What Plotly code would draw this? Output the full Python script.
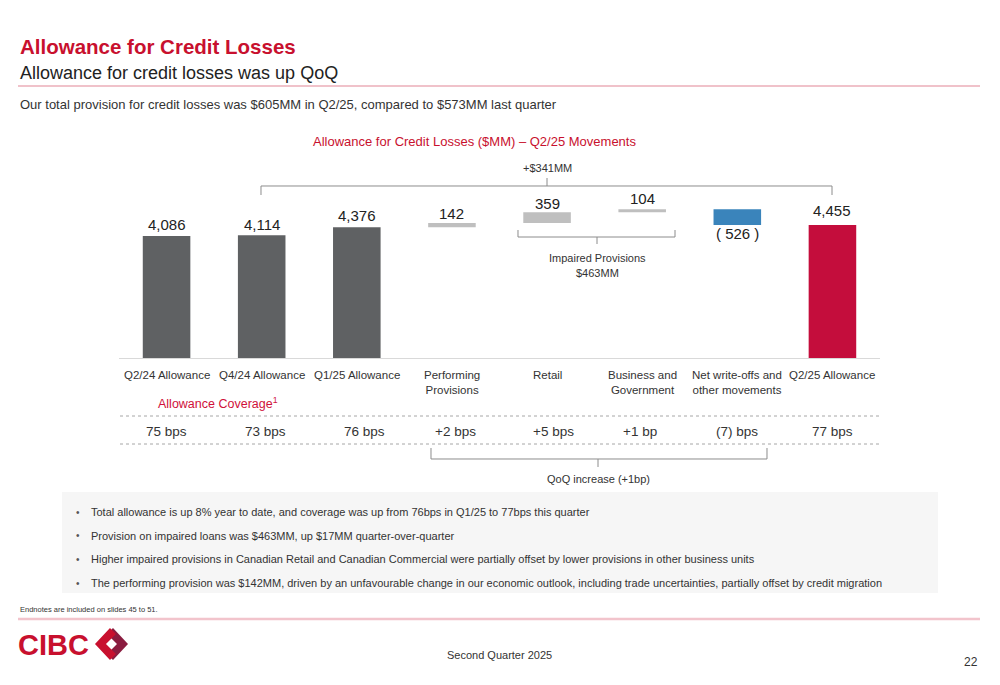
import plotly.graph_objects as go

# ---------------- data ----------------
categories = ["Q2/24 Allowance", "Q4/24 Allowance", "Q1/25 Allowance", "Performing Provisions",
              "Retail", "Business and Government", "Net write-offs and other movements", "Q2/25 Allowance"]
category_labels = ["Q2/24 Allowance", "Q4/24 Allowance", "Q1/25 Allowance", "Performing<br>Provisions",
                   "Retail", "Business and<br>Government", "Net write-offs and<br>other movements", "Q2/25 Allowance"]
values = [4086, 4114, 4376, 142, 359, 104, -526, 4455]
measures = ["total", "total", "total", "delta", "delta", "delta", "delta", "total"]
coverage = ["75 bps", "73 bps", "76 bps", "+2 bps", "+5 bps", "+1 bp", "(7) bps", "77 bps"]
bullets = [
    "Total allowance is up 8% year to date, and coverage was up from 76bps in Q1/25 to 77bps this quarter",
    "Provision on impaired loans was $463MM, up $17MM quarter-over-quarter",
    "Higher impaired provisions in Canadian Retail and Canadian Commercial were partially offset by lower provisions in other business units",
    "The performing provision was $142MM, driven by an unfavourable change in our economic outlook, including trade uncertainties, partially offset by credit migration",
]

# ---------------- helpers ----------------
OFF = 8  # page body margin
W, H = 1000 - OFF, 685 - OFF
def X(px):
    return (px - OFF) / W
def Y(py):
    return 1 - (py - OFF) / H

FONT = "'Liberation Sans', Arial, sans-serif"
RED = "#c8102e"
DARK = "#333333"
GREY_BAR = "#5f6163"
LIGHT_BAR = "#bfbfbf"
BLUE_BAR = "#3a84bb"
FINAL_BAR = "#c40d3c"

# ---------------- bars ----------------
bases, colors, texts = [], [], []
running = 0
for i, (v, m) in enumerate(zip(values, measures)):
    if m == "total":
        bases.append(0)
        running = v
        colors.append(FINAL_BAR if i == len(values) - 1 else GREY_BAR)
        texts.append(f"{v:,}")
    else:
        bases.append(running)
        running += v
        colors.append(LIGHT_BAR if v >= 0 else BLUE_BAR)
        texts.append(f"{v}" if v >= 0 else f"( {abs(v)} )")

fig = go.Figure()
fig.add_trace(go.Bar(x=categories, y=values, base=bases, marker=dict(color=colors, line=dict(width=0)),
                     width=0.5, hoverinfo="skip"))

scale = 0.02986  # px per $MM
ytop = 5000
annotations = []
shift_up = [11, 11, 12, 10, 9, 11, 0, 14]
for i, (c, v, b, t) in enumerate(zip(categories, values, bases, texts)):
    annotations.append(dict(x=c, y=b + v, xref="x", yref="y", text=t, showarrow=False,
                            yanchor="middle", yshift=shift_up[i] if v >= 0 else -9,
                            font=dict(family=FONT, size=15, color="#222222")))

# category labels
for c, lab in zip(categories, category_labels):
    annotations.append(dict(x=c, xref="x", y=Y(367), yref="paper", text=lab, showarrow=False,
                            yanchor="top", align="center",
                            font=dict(family=FONT, size=11.5, color=DARK)))

# coverage labels
cov_shift = [0, 4, 8, 4, 6, -2, 0, 0]
for c, cv, s in zip(categories, coverage, cov_shift):
    annotations.append(dict(x=c, xref="x", y=Y(431), yref="paper", text=cv, showarrow=False,
                            yanchor="middle", xshift=s,
                            font=dict(family=FONT, size=13.5, color=DARK)))

def txt(px, py, text, size, color=DARK, bold=False, xanchor="left"):
    if bold:
        text = f"<b>{text}</b>"
    annotations.append(dict(x=X(px), y=Y(py), xref="paper", yref="paper", text=text, showarrow=False,
                            xanchor=xanchor, yanchor="middle",
                            font=dict(family=FONT, size=size, color=color)))

txt(18, 46, "Allowance for Credit Losses", 20.5, RED, bold=True)
txt(18, 73, "Allowance for credit losses was up QoQ", 18, "#222222")
txt(18, 104, "Our total provision for credit losses was $605MM in Q2/25, compared to $573MM last quarter", 13, DARK)
txt(474, 142, "Allowance for Credit Losses ($MM) – Q2/25 Movements", 13, RED, xanchor="center")
txt(547, 168, "+$341MM", 11, DARK, xanchor="center")
txt(597, 258, "Impaired Provisions", 11, DARK, xanchor="center")
txt(597, 273, "$463MM", 11, DARK, xanchor="center")
txt(156, 403, "Allowance Coverage<sup>1</sup>", 12.5, "#d0103a")
txt(598, 479, "QoQ increase (+1bp)", 11, DARK, xanchor="center")
for k, b in enumerate(bullets):
    py = 512 + k * 23.7
    txt(74, py, "•", 10, "#555555")
    txt(89, py, b, 11, DARK)
txt(18, 609, "Endnotes are included on slides 45 to 51.", 7.5, DARK)
txt(499, 655, "Second Quarter 2025", 11, DARK, xanchor="center")
txt(980, 662, "22", 12, DARK, xanchor="right")
txt(16, 645, "<b>CIBC</b>", 29, "#c8102e")

# ---------------- shapes ----------------
shapes = []
def path(points, color="#8c8c8c", width=1, fill=None, closed=False):
    d = "M " + " L ".join(f"{X(a):.5f},{Y(b):.5f}" for a, b in points)
    if closed:
        d += " Z"
    s = dict(type="path", path=d, xref="paper", yref="paper", line=dict(color=color, width=width))
    if fill:
        s["fillcolor"] = fill
        s["line"] = dict(width=0)
    shapes.append(s)

def line(x0, y0, x1, y1, color, width=1, dash=None):
    shapes.append(dict(type="line", x0=X(x0), y0=Y(y0), x1=X(x1), y1=Y(y1), xref="paper", yref="paper",
                       line=dict(color=color, width=width, dash=dash)))

# background box for bullets
shapes.append(dict(type="rect", x0=X(62), x1=X(938), y0=Y(492), y1=Y(593), xref="paper", yref="paper",
                   fillcolor="#f6f6f6", line=dict(width=0), layer="below"))
# header & footer rules
line(18, 86, 980, 86, "#f0c2ca", 2)
line(18, 619, 980, 619, "#f2c4cc", 2.5)
# dotted rules
line(120, 416, 880, 416, "#a6a6a6", 1, "dot")
line(120, 444, 880, 444, "#a6a6a6", 1, "dot")
# brackets
path([(261, 195), (261, 186), (832, 186), (832, 195)])
path([(547, 186), (547, 178)])
path([(518, 230), (518, 237), (675, 237), (675, 230)])
path([(597, 237), (597, 244)])
path([(431, 448), (431, 459), (767, 459), (767, 448)])
path([(598, 459), (598, 467)])
# logo chevrons
path([(128, 644), (113, 628), (107, 634), (117, 644), (107, 654), (113, 660)], fill="#8a1c3f", closed=True)
path([(95, 644), (110, 628), (116, 634), (106, 644), (116, 654), (110, 660)], fill="#c8102e", closed=True)

fig.update_layout(
    width=W, height=H, margin=dict(l=0, r=0, t=0, b=0),
    paper_bgcolor="white", plot_bgcolor="white", showlegend=False,
    xaxis=dict(domain=[X(119), X(880)], range=[-0.5, 7.5], showticklabels=False, showgrid=False,
               showline=True, linecolor="#d9d9d9", linewidth=1, zeroline=False, ticks=""),
    yaxis=dict(domain=[Y(358), Y(358 - ytop * scale)], range=[0, ytop], visible=False),
    annotations=annotations, shapes=shapes, bargap=0.5,
)

fig.write_html("out.html")
